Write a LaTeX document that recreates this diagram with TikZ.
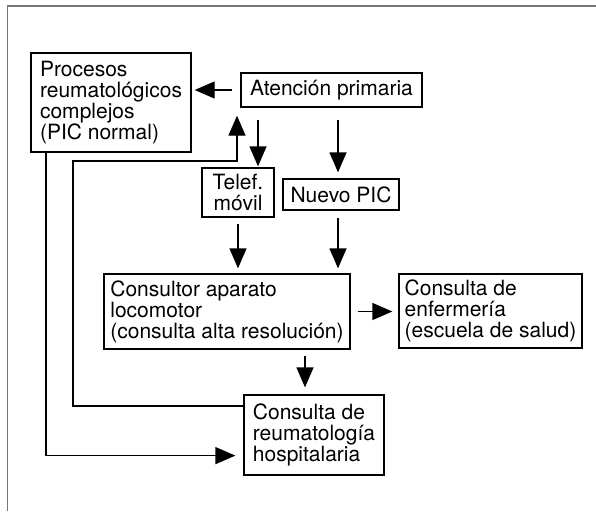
\documentclass[tikz,border=0pt]{standalone}
\usepackage{fontspec}
\setmainfont{TeX Gyre Heros}
\usetikzlibrary{arrows.meta}
\definecolor{framegray}{RGB}{118,118,118}
\tikzset{
  box/.style={draw, line width=1.3pt, inner sep=0pt, align=left,
    font=\fontsize{21pt}{21pt}\selectfont},
  arr/.style={line width=1.3pt, -{Triangle[length=20pt,width=17pt]}},
  link/.style={line width=1.3pt}
}
\begin{document}
\begin{tikzpicture}[x=1pt,y=-1pt]
\useasboundingbox (0,0) rectangle (596,511);
\draw[framegray, line width=1.8pt] (7.5,511) -- (7.5,6) -- (596,6);

\node[box, minimum width=160pt, minimum height=99pt] (proc) at (111,102.5)
  {Procesos\\reumatológicos\\complejos\\(PIC normal)};
\node[box, minimum width=181pt, minimum height=34pt] (aten) at (331.5,90)
  {Atención primaria};
\node[box, align=center, minimum width=72pt, minimum height=49pt] (tel) at (238,192.5)
  {Telef.\\móvil};
\node[box, minimum width=116pt, minimum height=31pt] (nuevo) at (341,194.5)
  {Nuevo PIC};
\node[box, minimum width=246pt, minimum height=75pt] (cons) at (227,311.5)
  {Consultor aparato\\locomotor\\(consulta alta resolución)};
\node[box, minimum width=183pt, minimum height=74pt] (enf) at (490.5,311)
  {Consulta de\\enfermería\\(escuela de salud)};
\node[box, minimum width=140pt, minimum height=80pt] (reum) at (314,435)
  {Consulta de\\reumatología\\hospitalaria};

\coordinate (l1) at (73,406);
\coordinate (l2) at (237,161);
\coordinate (l3) at (46,455.6);

\draw[arr, shorten <=8pt, shorten >=3pt] (aten.west) -- (aten.west -| proc.east);
\draw[arr, shorten <=12pt, shorten >=1pt] ([xshift=-73.5pt]aten.south) -- ([xshift=-73.5pt]aten.south |- tel.north);
\draw[arr, shorten <=12pt, shorten >=6pt] ([xshift=-3pt]nuevo.north |- aten.south) -- ([xshift=-3pt]nuevo.north);
\draw[arr, shorten <=6pt, shorten >=5pt] (tel.south) -- (tel.south |- cons.north);
\draw[arr, shorten <=7pt, shorten >=5pt] ([xshift=-3pt]nuevo.south) -- ([xshift=-3pt]nuevo.south |- cons.north);
\draw[arr, shorten <=7pt, shorten >=6pt] (cons.east) -- (cons.east -| enf.west);
\draw[arr, shorten <=6pt, shorten >=7pt] ([xshift=-9pt]reum.north |- cons.south) -- ([xshift=-9pt]reum.north);
\draw[arr, shorten >=8pt] (reum.west |- l1) -| (l1 |- l2) -- (l2) -- (l2 |- aten.south);
\draw[arr, shorten >=8pt] (proc.south -| l3) |- (l3 -| reum.west);
\end{tikzpicture}
\end{document}
